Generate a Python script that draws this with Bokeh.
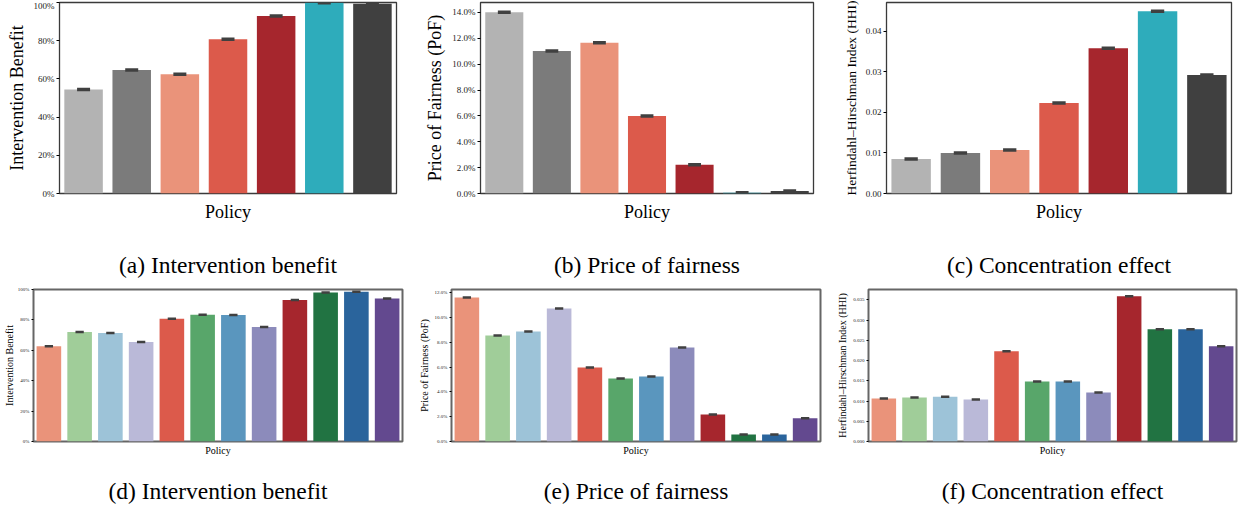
from bokeh.plotting import figure
from bokeh.layouts import column, row
from bokeh.models import Range1d, FixedTicker, NumeralTickFormatter, LinearAxis, ColumnDataSource
from bokeh.embed import file_html
from bokeh.resources import INLINE

# ---------------- data ----------------
top_policies = ["P1", "P2", "P3", "P4", "P5", "P6", "P7"]
top_colors = ["#b3b3b3", "#7b7b7b", "#ea937a", "#dc5a4b", "#a6262d", "#2eacbb", "#404040"]
a_benefit = [0.545, 0.647, 0.625, 0.807, 0.929, 0.999, 0.993]
b_pof = [0.1402, 0.1101, 0.1166, 0.0600, 0.0222, 0.0005, 0.0020]
c_hhi = [0.0085, 0.0100, 0.0107, 0.0223, 0.0358, 0.0449, 0.0292]

bottom_policies = ["Q1", "Q2", "Q3", "Q4", "Q5", "Q6", "Q7", "Q8", "Q9", "Q10", "Q11", "Q12"]
bottom_colors = ["#ea937a", "#a0cd99", "#9dc3d8", "#bab9d8", "#dc5a4b", "#58a66a",
                 "#5a96be", "#8c8bbb", "#a6262d", "#217342", "#2a649c", "#63498f"]
d_benefit = [0.627, 0.721, 0.713, 0.654, 0.807, 0.834, 0.833, 0.754, 0.931, 0.980, 0.985, 0.940]
e_pof = [0.1163, 0.0856, 0.0888, 0.1074, 0.0598, 0.0509, 0.0525, 0.0759, 0.0218, 0.0057, 0.0057, 0.0188]
f_hhi = [0.01065, 0.0109, 0.01106, 0.0104, 0.0223, 0.01486, 0.01486, 0.01213, 0.0359, 0.02774, 0.02774, 0.02353]

pct_ticks = [0, 0.2, 0.4, 0.6, 0.8, 1.0]
pof_top_ticks = [0, 0.02, 0.04, 0.06, 0.08, 0.10, 0.12, 0.14]
hhi_top_ticks = [0, 0.01, 0.02, 0.03, 0.04]
pof_bottom_ticks = [0, 0.02, 0.04, 0.06, 0.08, 0.10, 0.12]
hhi_bottom_ticks = [0, 0.005, 0.01, 0.015, 0.02, 0.025, 0.03, 0.035]

SERIF = "Liberation Serif"


def panel(values, colors, ymax, ticks, fmt, ylabel, caption, geo, big, ylab_fs, ylab_standoff):
    n = len(values)
    src = ColumnDataSource(dict(x=list(range(n)), top=values, color=colors))
    fw, fh, bl, br, bt, bb = geo
    p = figure(x_range=Range1d(-0.5, n - 0.5), y_range=Range1d(0, ymax),
               frame_width=fw, frame_height=fh,
               min_border_left=bl, min_border_right=br,
               min_border_top=bt, min_border_bottom=bb,
               output_backend="svg", toolbar_location=None)
    p.vbar(x="x", top="top", width=0.8, fill_color="color", line_color=None, source=src)
    p.rect(x="x", y="top", width=0.27, height=3.5 if big else 2.5, height_units="screen",
           fill_color="#404040", line_color=None, source=src)
    p.xgrid.visible = False
    p.ygrid.visible = False
    p.background_fill_color = "white"
    p.border_fill_color = "white"
    if big:
        p.outline_line_color = "#3a3a3a"
        p.outline_line_width = 1.3
    else:
        p.outline_line_color = "#666666"
        p.outline_line_width = 2
    p.outline_line_alpha = 1.0

    lab_fs = "18px" if big else "10px"
    tick_fs = "9px" if big else "5px"

    xa = p.xaxis[0]
    xa.ticker = FixedTicker(ticks=[])
    xa.axis_line_color = None
    xa.major_tick_line_color = None
    xa.minor_tick_line_color = None
    xa.major_label_text_font_size = "0px"
    xa.axis_label = "Policy"
    xa.axis_label_text_font = SERIF
    xa.axis_label_text_font_style = "normal"
    xa.axis_label_text_font_size = lab_fs
    xa.axis_label_text_color = "black"
    xa.axis_label_standoff = 8 if big else 3

    ya = p.yaxis[0]
    ya.ticker = FixedTicker(ticks=ticks)
    ya.formatter = NumeralTickFormatter(format=fmt)
    ya.axis_line_color = None
    ya.major_tick_line_color = "black"
    ya.major_tick_out = 3 if big else 2
    ya.major_tick_in = 0
    ya.minor_tick_line_color = None
    ya.major_label_text_font = SERIF
    ya.major_label_text_font_size = tick_fs
    ya.major_label_text_color = "#222222"
    ya.major_label_standoff = 2
    ya.axis_label = ylabel
    ya.axis_label_text_font = SERIF
    ya.axis_label_text_font_style = "normal"
    ya.axis_label_text_font_size = ylab_fs
    ya.axis_label_text_color = "black"
    ya.axis_label_standoff = ylab_standoff

    cap = LinearAxis(ticker=FixedTicker(ticks=[]), axis_label=caption,
                     axis_line_color=None, major_tick_line_color=None,
                     minor_tick_line_color=None, major_tick_out=0, major_tick_in=0,
                     minor_tick_out=0, minor_tick_in=0,
                     major_label_standoff=0, major_label_text_font_size="0px",
                     axis_label_standoff=27 if big else 19,
                     axis_label_text_font=SERIF, axis_label_text_font_style="normal",
                     axis_label_text_font_size="23.5px", axis_label_text_color="black")
    p.add_layout(cap, "below")
    return p


# geometry: (frame_width, frame_height, border_left, border_right, border_top, border_bottom)
pa = panel(a_benefit, top_colors, 1.0, pct_ticks, "0%", "Intervention Benefit",
           "(a) Intervention benefit", (337, 191, 59, 26, 2, 10), True, "18px", 4)
pb = panel(b_pof, top_colors, 0.1477, pof_top_ticks, "0.0%", "Price of Fairness (PoF)",
           "(b) Price of fairness", (333, 191, 58, 26, 2, 10), True, "18px", 4)
pc = panel(c_hhi, top_colors, 0.04707, hhi_top_ticks, "0.00", "Herfindahl\u2013Hirschman Index (HHI)",
           "(c) Concentration effect", (345, 191, 47, 6, 2, 10), True, "13.5px", 4)

pd_ = panel(d_benefit, bottom_colors, 1.0, pct_ticks, "0%", "Intervention Benefit",
            "(d) Intervention benefit", (369, 152, 31, 12, 9, 10), False, "10px", 0)
pe = panel(e_pof, bottom_colors, 0.1227, pof_bottom_ticks, "0.0%", "Price of Fairness (PoF)",
           "(e) Price of fairness", (369, 152, 37, 14, 9, 10), False, "10px", 2)
pf = panel(f_hhi, bottom_colors, 0.03757, hhi_bottom_ticks, "0.000", "Herfindahl\u2013Hirschman Index (HHI)",
           "(f) Concentration effect", (368, 152, 34, 2, 9, 10), False, "10px", 2)

layout = column(row(pa, pb, pc), row(pd_, pe, pf))
open("out.html", "w").write(file_html(layout, INLINE))
